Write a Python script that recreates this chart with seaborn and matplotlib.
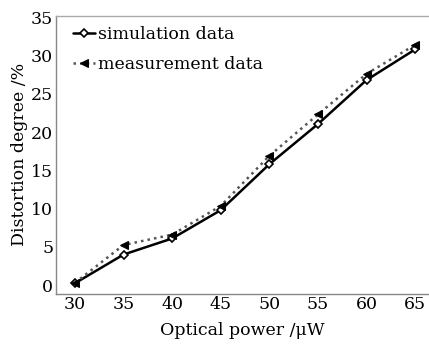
import numpy as np
import pandas as pd
import matplotlib
matplotlib.use("Agg")
import matplotlib.pyplot as plt
import seaborn as sns

power = [30, 35, 40, 45, 50, 55, 60, 65]
simulation = [0.25, 4.0, 6.1, 9.8, 15.8, 21.05, 26.8, 30.8]
measurement = [0.3, 5.25, 6.6, 10.35, 16.9, 22.3, 27.6, 31.4]
series_names = ["simulation data", "measurement data"]

sns.set_style("white")
plt.rcParams["font.family"] = ["DejaVu Serif"]
plt.rcParams["mathtext.fontset"] = "dejavuserif"
plt.rcParams["text.color"] = "black"
plt.rcParams["axes.labelcolor"] = "black"
plt.rcParams["xtick.color"] = "#888888"
plt.rcParams["ytick.color"] = "#888888"
plt.rcParams["xtick.labelcolor"] = "black"
plt.rcParams["ytick.labelcolor"] = "black"

fig = plt.figure(figsize=(4.29, 3.45), dpi=100)
ax = fig.add_axes([0.1305, 0.149, 0.869, 0.8055])

sns.lineplot(x=power, y=simulation, ax=ax, color="black", lw=1.8,
             marker="D", markersize=4, markerfacecolor="white",
             markeredgecolor="black", markeredgewidth=1.2,
             label=series_names[0])
sns.lineplot(x=power, y=measurement, ax=ax, color="#555555", lw=1.8,
             linestyle=":", marker="<", markersize=6,
             markerfacecolor="black", markeredgecolor="black",
             label=series_names[1])

ax.set_xlim(28.05, 66.4)
ax.set_ylim(-1.1, 35.2)
ax.set_xticks(power)
ax.set_yticks([0, 5, 10, 15, 20, 25, 30, 35])
ax.tick_params(axis="both", direction="in", length=3, labelsize=12.5,
               pad=2)
ax.set_xlabel("Optical power /μW", fontsize=12.5, labelpad=6)
ax.set_ylabel("Distortion degree /%", fontsize=12.5, labelpad=2)

for side in ["left", "bottom"]:
    ax.spines[side].set_color("#888888")
    ax.spines[side].set_linewidth(1.0)
ax.spines["top"].set_color("#aaaaaa")
ax.spines["top"].set_linewidth(1.0)
ax.spines["right"].set_visible(False)

leg = ax.legend(loc="upper left", frameon=False, fontsize=12.5,
                handlelength=1.3, handletextpad=0.15, labelspacing=0.75,
                borderaxespad=0.2, bbox_to_anchor=(0.017, 1.0))

fig.savefig("out.png", dpi=100)
